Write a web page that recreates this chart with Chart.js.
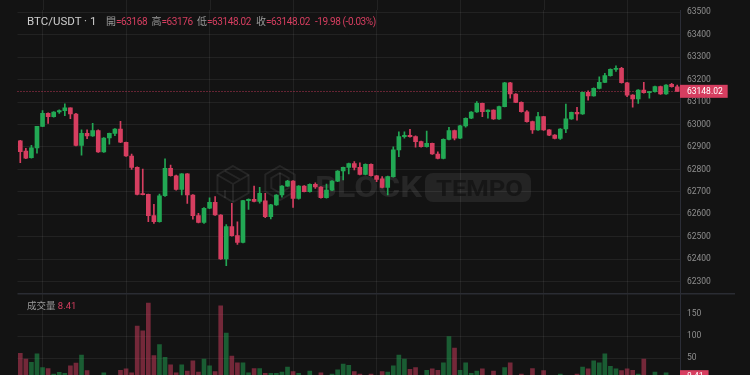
<!DOCTYPE html>
<html>
<head>
<meta charset="utf-8">
<script src="https://cdn.jsdelivr.net/npm/chart.js@4.4.1/dist/chart.umd.min.js"></script>
<style>
html,body{margin:0;padding:0;background:#131313;width:750px;height:375px;overflow:hidden;}
#wrap{position:relative;width:750px;height:375px;background:#131313;}
canvas{position:absolute;left:0;}
#pc{top:0;}
#vc{top:293px;}
.lg{position:absolute;white-space:nowrap;font-family:Roboto,"Noto Sans CJK TC",sans-serif;line-height:16px;color:#9a9a9a;font-size:10px;}
.tt{color:#cdcdcd;font-size:11.5px;}
.rd{color:#d63e60;}
.nv{letter-spacing:-0.4px;}
</style>
</head>
<body>
<div id="wrap">
<canvas id="pc" width="750" height="293"></canvas>
<canvas id="vc" width="750" height="82"></canvas>
<div class="lg tt" style="left:27px;top:13px">BTC/USDT · 1</div>
<div class="lg" id="hO" style="left:106px;top:13.5px"></div>
<div class="lg" id="hH" style="left:151.5px;top:13.5px"></div>
<div class="lg" id="hL" style="left:197px;top:13.5px"></div>
<div class="lg" id="hC" style="left:256px;top:13.5px"></div>
<div class="lg rd nv" id="hD" style="left:315px;top:13.5px"></div>
<div class="lg" id="vLeg" style="left:27px;top:298px;font-size:9.5px"></div>
</div>
<script>
// ---------------- data (1-minute candles) ----------------
const opens = [62927,62882,62853,62896,62992,63050,63035,63056,63062,63074,63047,62907,62961,62949,62973,62878,62940,62961,62980,62921,
62860,62809,62689,62689,62594,62567,62683,62805,62772,62711,62780,62686,62594,62564,62627,62653,62597,62401,62545,62505,
62475,62661,62667,62658,62660,62590,62642,62686,62726,62748,62671,62726,62701,62734,62722,62674,62708,62748,62793,62809,
62826,62809,62778,62823,62772,62758,62720,62768,62887,62946,62952,62946,62924,62901,62916,62869,62849,62934,62973,62939,
62994,63028,63056,63094,63057,63064,63025,63080,63186,63136,63099,63057,63013,62976,63035,62976,62953,62938,62980,63025,
63054,63047,63143,63128,63161,63188,63218,63246,63250,63186,63131,63114,63154,63142,63146,63169,63136,63179,63168];
const highs = [62930,62894,62907,62992,63062,63052,63058,63065,63092,63075,63050,62976,62976,63005,62976,62942,62962,62982,63014,62922,
62869,62812,62802,62690,62645,62690,62847,62820,62775,62782,62782,62688,62604,62630,62674,62679,62599,62555,62649,62567,
62663,62669,62726,62720,62694,62645,62688,62728,62752,62750,62728,62728,62736,62740,62724,62735,62750,62795,62811,62828,
62835,62830,62825,62825,62774,62768,62770,62901,62968,62968,62979,62950,62926,62971,62918,62879,62936,62988,62975,62996,
63030,63058,63102,63096,63066,63066,63082,63188,63188,63138,63101,63062,63015,63054,63037,62978,62955,62982,63091,63056,
63077,63145,63150,63163,63213,63228,63248,63261,63255,63188,63133,63156,63188,63148,63171,63171,63178,63184,63176];
const lows = [62830,62848,62850,62872,62990,63005,63033,63050,63040,63026,62905,62864,62937,62947,62876,62876,62913,62950,62919,62858,
62800,62687,62686,62567,62560,62565,62680,62770,62708,62686,62649,62578,62562,62560,62625,62595,62399,62371,62503,62466,
62473,62622,62655,62650,62585,62580,62640,62676,62724,62631,62668,62700,62699,62715,62672,62672,62706,62746,62753,62780,
62798,62776,62776,62770,62746,62718,62686,62766,62857,62939,62944,62899,62899,62899,62867,62847,62847,62932,62931,62937,
62988,63026,63054,63035,63028,63023,63023,63078,63117,63097,63055,63011,62961,62974,62974,62951,62936,62934,62964,63023,
63020,63045,63109,63126,63159,63186,63216,63237,63184,63124,63077,63094,63140,63117,63144,63134,63134,63167,63148.02];
const closes = [62879,62850,62896,62992,63050,63035,63056,63062,63074,63047,62907,62961,62949,62973,62878,62940,62961,62980,62921,62860,
62809,62689,62688,62594,62567,62683,62805,62772,62711,62780,62686,62594,62564,62627,62653,62597,62401,62545,62505,62475,
62661,62667,62658,62694,62590,62642,62686,62726,62748,62671,62726,62701,62734,62722,62674,62708,62748,62793,62809,62826,
62809,62778,62823,62772,62756,62720,62768,62887,62946,62952,62946,62924,62901,62916,62869,62849,62934,62973,62939,62994,
63028,63056,63094,63057,63064,63025,63080,63186,63136,63099,63057,63013,62976,63035,62976,62953,62938,62980,63025,63054,
63047,63143,63128,63161,63188,63218,63246,63250,63186,63131,63114,63154,63142,63146,63169,63136,63176,63169,63148.02];
const volumes = [61,48,41,60,29,27,14,18,16,33,39,57,22,8,9,17,7,6,23,26,
17,123,112,175,56,81,52,35,17,35,21,44,19,48,33,20,169,107,55,40,
40,17,27,27,16,16,16,19,30,20,16,6,21,5,17,6,14,24,37,34,
20,14,8,14,6,20,19,33,57,48,25,29,7,23,26,23,40,99,73,23,
40,16,21,26,6,21,7,29,40,6,14,6,27,6,22,5,5,14,6,6,
14,30,26,44,40,60,32,26,22,26,23,14,48,5,19,5,17,5,8.41];
const priceTicks = [62300,62400,62500,62600,62700,62800,62900,63000,63100,63200,63300,63400,63500];
const volumeTicks = [50,100,150];
const gridTimes = ['13:00','13:15','13:30','13:45','14:00','14:15','14:30','14:45'];
const categories = [];
for (let i = 0; i < opens.length; i++) {
  const t = 12 * 60 + 56 + i;
  categories.push(String(Math.floor(t / 60)).padStart(2, '0') + ':' + String(t % 60).padStart(2, '0'));
}

// ---------------- styles ----------------
const UP = 'rgb(34,168,84)', DOWN = 'rgb(214,62,96)';
const UP_V = 'rgba(34,168,84,0.5)', DOWN_V = 'rgba(214,62,96,0.5)';
const GRID = 'rgba(255,255,255,0.065)', AXIS = '#2b2d37', TICK = '#8f8f8f';
Chart.defaults.font.family = 'Roboto, "Noto Sans", sans-serif';

const isUp = opens.map((o, i) => closes[i] >= o);
const candleColors = isUp.map(u => u ? UP : DOWN);
const volColors = isUp.map(u => u ? UP_V : DOWN_V);
const bodies = opens.map((o, i) => [o, closes[i]]);
const wicks = lows.map((l, i) => [l, highs[i]]);
const last = opens.length - 1;

// header legend
const fmt = v => (Math.round(v * 100) / 100).toString();
const chg = closes[last] - opens[last];
const val = s => '<span class="rd nv">=' + s + '</span>';
document.getElementById('hO').innerHTML = '開' + val(fmt(opens[last]));
document.getElementById('hH').innerHTML = '高' + val(fmt(highs[last]));
document.getElementById('hL').innerHTML = '低' + val(lows[last].toFixed(2));
document.getElementById('hC').innerHTML = '收' + val(closes[last].toFixed(2));
document.getElementById('hD').textContent = chg.toFixed(2) + ' (' + (chg / opens[last] * 100).toFixed(2) + '%)';
document.getElementById('vLeg').innerHTML = '成交量&nbsp;<span class="rd">' + volumes[last].toFixed(2) + '</span>';

const xGridColor = ctx => gridTimes.includes(categories[ctx.index]) ? GRID : 'rgba(0,0,0,0)';
const xScale = {
  offset: true,
  grid: { offset: false, drawTicks: false, color: xGridColor },
  border: { display: false },
  ticks: { display: false, autoSkip: false }
};
function yFit(s) { s.width = 70; s.paddingTop = 0; s.paddingBottom = 0; }

// watermark
function hexPath(ctx, cx, cy, r) {
  ctx.beginPath();
  for (let k = 0; k < 6; k++) {
    const a = -Math.PI / 2 + k * Math.PI / 3;
    const px = cx + r * Math.cos(a), py = cy + r * Math.sin(a);
    if (k) ctx.lineTo(px, py); else ctx.moveTo(px, py);
  }
  ctx.closePath();
  ctx.stroke();
}
const watermark = {
  id: 'watermark',
  beforeDatasetsDraw(chart) {
    const ctx = chart.ctx;
    const xs = chart.scales.x;
    ctx.save();
    // vertical grid continues above the pane
    ctx.strokeStyle = GRID;
    ctx.lineWidth = 1;
    ctx.beginPath();
    categories.forEach((c, i) => {
      if (gridTimes.includes(c)) {
        const px = Math.round(xs.getPixelForValue(i)) + 0.5;
        ctx.moveTo(px, 0); ctx.lineTo(px, chart.chartArea.top);
      }
    });
    ctx.stroke();
    ctx.strokeStyle = 'rgba(255,255,255,0.08)';
    ctx.lineWidth = 2;
    // cube icon
    hexPath(ctx, 233, 184, 18);
    ctx.beginPath();
    ctx.moveTo(233, 184); ctx.lineTo(233, 202);
    ctx.moveTo(233, 184); ctx.lineTo(217.4, 175);
    ctx.moveTo(233, 184); ctx.lineTo(248.6, 175);
    ctx.moveTo(225, 171); ctx.lineTo(241, 180);
    ctx.moveTo(225, 190); ctx.lineTo(225, 198);
    ctx.stroke();
    // second hex icon
    hexPath(ctx, 280, 183, 17);
    hexPath(ctx, 280, 183, 10);
    ctx.beginPath();
    ctx.moveTo(280, 173); ctx.lineTo(280, 193);
    ctx.stroke();
    // BLOCK
    ctx.fillStyle = 'rgba(255,255,255,0.085)';
    ctx.font = 'bold 30px Roboto, sans-serif';
    ctx.textBaseline = 'alphabetic';
    const w = ctx.measureText('BLOCK').width;
    ctx.save();
    ctx.translate(315, 197);
    ctx.scale(107 / w, 1);
    ctx.fillText('BLOCK', 0, 0);
    ctx.restore();
    // TEMPO box
    ctx.beginPath();
    ctx.roundRect(425, 173, 106, 29, 8);
    ctx.fillStyle = 'rgba(255,255,255,0.075)';
    ctx.fill();
    ctx.fillStyle = 'rgba(19,19,19,0.75)';
    ctx.font = 'bold 22px Roboto, sans-serif';
    const w2 = ctx.measureText('TEMPO').width;
    ctx.save();
    ctx.translate(436, 196);
    ctx.scale(87 / w2, 1);
    ctx.fillText('TEMPO', 0, 0);
    ctx.restore();
    // last price dotted line
    const y = chart.scales.y;
    const py = Math.round(y.getPixelForValue(closes[last])) + 0.5;
    ctx.strokeStyle = 'rgba(214,62,96,0.85)';
    ctx.lineWidth = 1;
    ctx.setLineDash([1, 2]);
    ctx.beginPath();
    ctx.moveTo(chart.chartArea.left, py);
    ctx.lineTo(chart.chartArea.right, py);
    ctx.stroke();
    ctx.restore();
  }
};
function axisLabel(chart, value, text) {
  const ctx = chart.ctx;
  const y = chart.scales.y.getPixelForValue(value);
  const x = chart.chartArea.right;
  ctx.save();
  ctx.font = '8.5px Roboto, sans-serif';
  const w = ctx.measureText(text).width;
  ctx.fillStyle = DOWN;
  ctx.fillRect(x, y - 6.5, w + 12, 13);
  ctx.fillStyle = '#ffffff';
  ctx.textBaseline = 'middle';
  ctx.fillText(text, x + 7, y + 0.5);
  ctx.restore();
}
const lastPriceLabel = { id: 'lastPriceLabel', afterDraw(chart) { axisLabel(chart, closes[last], closes[last].toFixed(2)); } };
const lastVolLabel = { id: 'lastVolLabel', afterDraw(chart) { axisLabel(chart, volumes[last], volumes[last].toFixed(2)); } };
const separator = {
  id: 'separator',
  afterDraw(chart) {
    const ctx = chart.ctx;
    ctx.save();
    ctx.fillStyle = '#2a2c33';
    ctx.fillRect(chart.chartArea.left, 0, 735 - chart.chartArea.left, 1.5);
    ctx.restore();
  }
};

new Chart(document.getElementById('pc'), {
  type: 'bar',
  data: {
    labels: categories,
    datasets: [
      { data: bodies, backgroundColor: candleColors, barThickness: 4, minBarLength: 1, grouped: false, borderWidth: 0 },
      { data: wicks, backgroundColor: candleColors, barThickness: 1, grouped: false, borderWidth: 0 }
    ]
  },
  options: {
    responsive: false, animation: false, devicePixelRatio: 1, events: [],
    layout: { padding: { left: 17.5, top: 10, right: 0, bottom: 0 } },
    plugins: { legend: { display: false }, tooltip: { enabled: false } },
    scales: {
      x: xScale,
      y: {
        position: 'right', min: 62249.7, max: 63510.2,
        grid: { color: GRID, drawTicks: false },
        border: { display: true, color: AXIS },
        ticks: { color: TICK, padding: 7, font: { size: 8.5 }, callback: v => String(v) },
        afterBuildTicks: s => { s.ticks = priceTicks.map(v => ({ value: v })); },
        afterFit: yFit
      }
    }
  },
  plugins: [watermark, lastPriceLabel]
});

new Chart(document.getElementById('vc'), {
  type: 'bar',
  data: {
    labels: categories,
    datasets: [{ data: volumes, backgroundColor: volColors, barThickness: 4, borderWidth: 0 }]
  },
  options: {
    responsive: false, animation: false, devicePixelRatio: 1, events: [],
    layout: { padding: { left: 17.5, top: 1, right: 0, bottom: 0 } },
    plugins: { legend: { display: false }, tooltip: { enabled: false } },
    scales: {
      x: xScale,
      y: {
        position: 'right', min: 12.2, max: 195.5,
        grid: { color: GRID, drawTicks: false },
        border: { display: true, color: AXIS },
        ticks: { color: TICK, padding: 7, font: { size: 8.5 }, callback: v => String(v) },
        afterBuildTicks: s => { s.ticks = volumeTicks.map(v => ({ value: v })); },
        afterFit: yFit
      }
    }
  },
  plugins: [separator, lastVolLabel]
});
</script>
</body>
</html>
